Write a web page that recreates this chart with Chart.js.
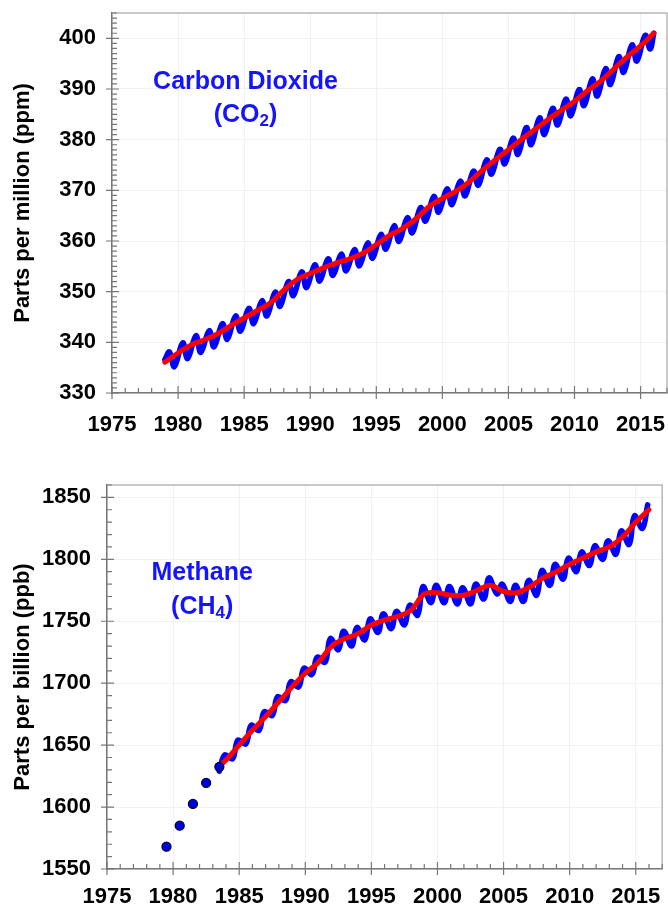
<!DOCTYPE html>
<html>
<head>
<meta charset="utf-8">
<script src="https://cdn.jsdelivr.net/npm/chart.js@4.4.1/dist/chart.umd.min.js"></script>
<style>
  html, body { margin: 0; padding: 0; background: #fff; }
  .chart-box { position: relative; width: 668px; }
  #co2Box { height: 455px; }
  #ch4Box { height: 456px; }
</style>
</head>
<body>
<div class="chart-box" id="co2Box"><canvas id="co2Chart"></canvas></div>
<div class="chart-box" id="ch4Box"><canvas id="ch4Chart"></canvas></div>
<script>
// tick labels
const xTickLabels = [1975, 1980, 1985, 1990, 1995, 2000, 2005, 2010, 2015];
const co2TickLabels = [330, 340, 350, 360, 370, 380, 390, 400];
const ch4TickLabels = [1550, 1600, 1650, 1700, 1750, 1800, 1850];

// CO2 trend (red), value at start of each year
const co2TrendYears = [1979, 1980, 1981, 1982, 1983, 1984, 1985, 1986, 1987, 1988, 1989, 1990, 1991, 1992, 1993, 1994, 1995, 1996, 1997,
  1998, 1999, 2000, 2001, 2002, 2003, 2004, 2005, 2006, 2007, 2008, 2009, 2010, 2011, 2012, 2013, 2014, 2015, 2016];
const co2Trend = [336.1, 337.9, 339.5, 340.5, 341.7, 343.3, 344.8, 346.3, 347.8, 350.3, 352.4, 353.6, 354.7, 355.7, 356.5, 357.6, 359.3, 361.1, 362.5,
  364.4, 366.8, 368.4, 369.8, 371.6, 373.9, 376.0, 378.0, 380.1, 382.0, 384.0, 385.8, 387.6, 389.7, 391.6, 394.0, 396.4, 398.5, 401.0];

// CO2 monthly (blue): spring high and autumn low of each year
const co2SeasonYears = [1979, 1980, 1981, 1982, 1983, 1984, 1985, 1986, 1987, 1988, 1989, 1990, 1991, 1992, 1993, 1994, 1995, 1996, 1997,
  1998, 1999, 2000, 2001, 2002, 2003, 2004, 2005, 2006, 2007, 2008, 2009, 2010, 2011, 2012, 2013, 2014, 2015];
const co2High = [338.1, 339.9, 341.3, 342.3, 343.7, 345.2, 346.7, 348.2, 349.9, 352.0, 353.9, 355.3, 356.5, 357.4, 358.3, 359.6, 361.3, 363.0, 364.6,
  366.6, 368.8, 370.3, 371.8, 373.8, 376.0, 378.1, 380.3, 382.4, 384.3, 386.2, 388.0, 389.9, 392.0, 394.0, 396.4, 398.7, 400.6];
const co2Low = [335.2, 336.8, 338.0, 339.1, 340.6, 342.2, 343.7, 345.2, 347.1, 349.2, 350.8, 352.1, 353.2, 354.1, 355.1, 356.6, 358.4, 359.9, 361.6,
  363.9, 365.7, 367.2, 368.9, 371.0, 373.2, 375.2, 377.1, 379.0, 381.0, 382.9, 384.7, 386.7, 388.6, 390.9, 393.3, 395.5, 397.9];
const co2FirstMonth = [1979.0, 336.6];
const co2LastMonth = [2016.0, 401.0];

// CH4 trend (red)
const ch4TrendYears = [1983.6, 1984, 1985, 1986, 1987, 1988, 1989, 1990, 1991, 1992, 1993, 1994, 1995, 1996, 1997, 1998, 1999,
  2000, 2001, 2002, 2003, 2004, 2005, 2006, 2007, 2008, 2009, 2010, 2011, 2012, 2013, 2014, 2015, 2016];
const ch4Trend = [1634, 1638, 1650, 1662, 1673, 1685, 1697, 1708, 1717, 1730, 1736, 1740, 1747, 1751, 1754, 1759, 1772,
  1773, 1771, 1771, 1775, 1779, 1774, 1773, 1778, 1785, 1790, 1796, 1801, 1806, 1810, 1818, 1830, 1840];

// CH4 monthly (blue): summer low and winter high of each year
const ch4SeasonYears = [1983, 1984, 1985, 1986, 1987, 1988, 1989, 1990, 1991, 1992, 1993, 1994, 1995, 1996, 1997, 1998, 1999,
  2000, 2001, 2002, 2003, 2004, 2005, 2006, 2007, 2008, 2009, 2010, 2011, 2012, 2013, 2014, 2015];
const ch4Low = [1629, 1639, 1651, 1662, 1674, 1686, 1697, 1707, 1717, 1727, 1730, 1735, 1741, 1744, 1747, 1755, 1765,
  1765, 1764, 1764, 1768, 1772, 1766, 1766, 1771, 1779, 1784, 1790, 1795, 1800, 1804, 1812, 1825];
const ch4High = [1642, 1654, 1666, 1677, 1689, 1701, 1712, 1721, 1736, 1742, 1745, 1752, 1756, 1758, 1763, 1778, 1779,
  1778, 1777, 1780, 1785, 1780, 1779, 1783, 1791, 1796, 1801, 1806, 1811, 1815, 1823, 1835, 1844];

// CH4 early annual values (dots)
const ch4EarlyYears = [1979.5, 1980.5, 1981.5, 1982.5, 1983.5];
const ch4Early = [1568, 1585, 1602.5, 1619.5, 1632.5];

Chart.defaults.font.family = '"Liberation Sans", Arial, sans-serif';
Chart.defaults.color = '#000';

const toPoints = (xs, ys) => xs.map((x, i) => ({x: x, y: ys[i]}));

// Frame, minor ticks and the gas name
const axisDecor = {
  id: 'axisDecor',
  afterDraw(chart, args, opts) {
    const ctx = chart.ctx;
    const a = chart.chartArea;
    const xs = chart.scales.x, ys = chart.scales.y;
    ctx.save();
    // top and right frame
    ctx.strokeStyle = '#b8b8b8';
    ctx.lineWidth = 1.5;
    ctx.beginPath();
    ctx.moveTo(a.left, a.top); ctx.lineTo(a.right, a.top); ctx.lineTo(a.right, a.bottom);
    ctx.stroke();
    // ticks
    ctx.strokeStyle = '#777';
    ctx.lineWidth = 1.2;
    ctx.beginPath();
    for (let v = xs.min; v <= xs.max; v += 1) {
      const px = xs.getPixelForValue(v);
      const major = xTickLabels.includes(v);
      ctx.moveTo(px, a.bottom + (major ? 6 : 0));
      ctx.lineTo(px, a.bottom - (major ? 7 : 5));
    }
    for (let v = ys.min; v <= ys.max; v += opts.yMinor) {
      const py = ys.getPixelForValue(v);
      const major = opts.yMajor.includes(v);
      ctx.moveTo(a.left - (major ? 6 : 0), py);
      ctx.lineTo(a.left + (major ? 7 : 5), py);
    }
    ctx.stroke();
    // gas name
    const cx = xs.getPixelForValue(opts.at[0]);
    const big = 'bold 25px "Liberation Sans", Arial, sans-serif';
    const small = 'bold 17px "Liberation Sans", Arial, sans-serif';
    ctx.fillStyle = '#1414ff';
    ctx.textAlign = 'left';
    ctx.textBaseline = 'alphabetic';
    ctx.font = big;
    const w1 = ctx.measureText(opts.name).width;
    ctx.fillText(opts.name, cx - w1 / 2, ys.getPixelForValue(opts.at[1]) + 9);
    const [pre, sub, post] = opts.formula;
    const wPre = ctx.measureText(pre).width, wPost = ctx.measureText(post).width;
    ctx.font = small;
    const wSub = ctx.measureText(sub).width;
    let x0 = cx - (wPre + wSub + wPost) / 2;
    const base = ys.getPixelForValue(opts.at[2]) + 9;
    ctx.font = big; ctx.fillText(pre, x0, base); x0 += wPre;
    ctx.font = small; ctx.fillText(sub, x0, base + 4); x0 += wSub;
    ctx.font = big; ctx.fillText(post, x0, base);
    ctx.restore();
  }
};

const buildChart = (canvasId, cfg) => {
  const canvasObject = document.getElementById(canvasId);
  return new Chart(canvasObject, {
    type: 'line',
    data: { datasets: cfg.datasets },
    options: {
      responsive: true,
      maintainAspectRatio: false,
      animation: false,
      events: [],
      layout: { padding: { top: cfg.top, right: 1, left: 0, bottom: 0 } },
      plugins: {
        legend: { display: false },
        tooltip: { enabled: false },
        axisDecor: cfg.decor
      },
      scales: {
        x: {
          type: 'linear',
          min: 1975,
          max: 2017,
          afterBuildTicks: (scale) => { scale.ticks = xTickLabels.map(v => ({value: v})); },
          afterFit: (scale) => { scale.height = cfg.xHeight; scale.paddingLeft = 0; scale.paddingRight = 0; },
          grid: { color: '#f1f1f1', drawTicks: false },
          border: { color: '#777', width: 1.5 },
          ticks: {
            padding: cfg.xPad,
            maxRotation: 0,
            autoSkip: false,
            font: { size: 22, weight: 'bold' },
            callback: (v) => String(v)
          }
        },
        y: {
          type: 'linear',
          min: cfg.yMin,
          max: cfg.yMax,
          afterBuildTicks: (scale) => { scale.ticks = cfg.yTicks.map(v => ({value: v})); },
          afterFit: (scale) => { scale.width = cfg.yWidth; scale.paddingTop = 0; scale.paddingBottom = 0; },
          grid: { color: '#f1f1f1', drawTicks: false },
          border: { color: '#777', width: 1.5 },
          ticks: {
            padding: 16,
            autoSkip: false,
            font: { size: 22, weight: 'bold' },
            callback: (v) => String(v)
          },
          title: {
            display: true,
            text: cfg.yTitle,
            font: { size: 22, weight: 'bold' },
            padding: { top: 10, bottom: 0 }
          }
        }
      }
    },
    plugins: [axisDecor]
  });
};

try {
  // CO2
  const co2Monthly = [{x: co2FirstMonth[0], y: co2FirstMonth[1]}];
  co2SeasonYears.forEach((yr, i) => {
    co2Monthly.push({x: yr + 0.35, y: co2High[i]});
    co2Monthly.push({x: yr + 0.72, y: co2Low[i]});
  });
  co2Monthly.push({x: co2LastMonth[0], y: co2LastMonth[1]});

  buildChart('co2Chart', {
    top: 13, xHeight: 62, xPad: 19, yWidth: 112,
    yMin: 330, yMax: 405, yTicks: co2TickLabels,
    yTitle: 'Parts per million (ppm)',
    decor: { yMinor: 1, yMajor: co2TickLabels, name: 'Carbon Dioxide', formula: ['(CO', '2', ')'], at: [1985.1, 391.7, 385.2] },
    datasets: [
      { label: 'trend', data: toPoints(co2TrendYears, co2Trend), borderColor: '#ff0000', borderWidth: 5,
        pointRadius: 0, tension: 0.4, fill: false, borderCapStyle: 'round', borderJoinStyle: 'round' },
      { label: 'monthly', data: co2Monthly, borderColor: '#0000ff', borderWidth: 5.5,
        pointRadius: 0, tension: 0.4, fill: false, borderCapStyle: 'round', borderJoinStyle: 'round' }
    ]
  });

  // CH4
  const ch4Monthly = [];
  ch4SeasonYears.forEach((yr, i) => {
    ch4Monthly.push({x: yr + 0.5, y: ch4Low[i]});
    ch4Monthly.push({x: yr + 0.9, y: ch4High[i]});
  });

  buildChart('ch4Chart', {
    top: 30, xHeight: 42, xPad: 15, yWidth: 107,
    yMin: 1550, yMax: 1860, yTicks: ch4TickLabels,
    yTitle: 'Parts per billion (ppb)',
    decor: { yMinor: 10, yMajor: ch4TickLabels, name: 'Methane', formula: ['(CH', '4', ')'], at: [1982.2, 1790.3, 1762.9] },
    datasets: [
      { label: 'early', data: toPoints(ch4EarlyYears, ch4Early), showLine: false, pointRadius: 4.5,
        pointBackgroundColor: '#0000dd', pointBorderColor: '#000033', pointBorderWidth: 1.3 },
      { label: 'trend', data: toPoints(ch4TrendYears, ch4Trend), borderColor: '#ff0000', borderWidth: 5,
        pointRadius: 0, tension: 0.4, fill: false, borderCapStyle: 'round', borderJoinStyle: 'round' },
      { label: 'monthly', data: ch4Monthly, borderColor: '#0000ff', borderWidth: 5.5,
        pointRadius: 0, tension: 0.4, fill: false, borderCapStyle: 'round', borderJoinStyle: 'round' }
    ]
  });
} catch (error) {
  console.log(error.message);
}
</script>
</body>
</html>
